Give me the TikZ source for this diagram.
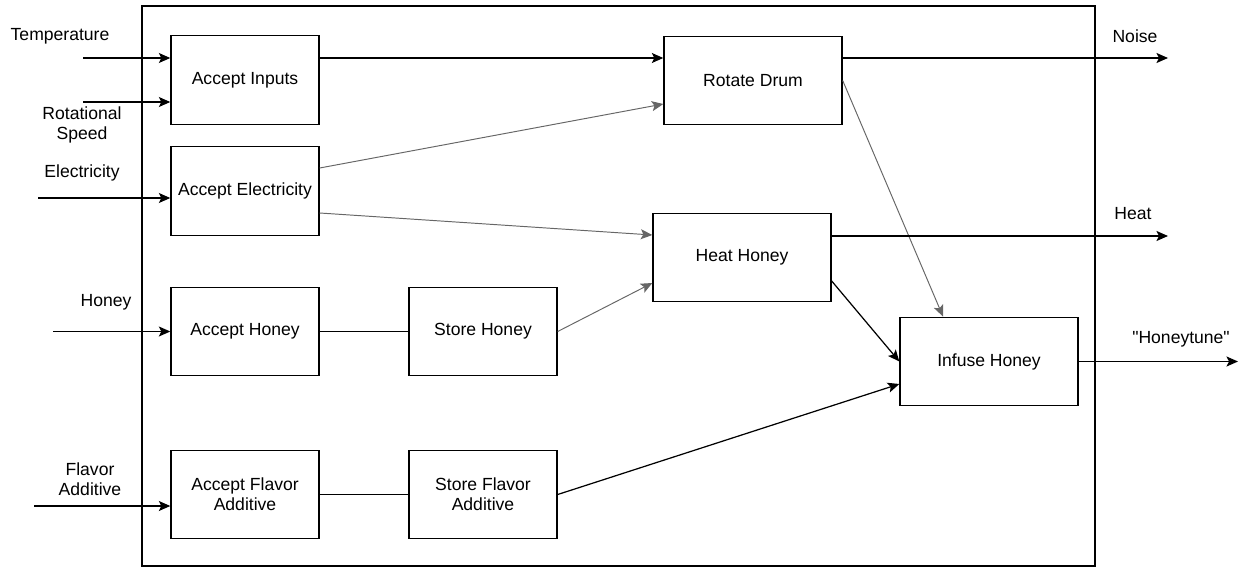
\documentclass[tikz,border=0pt]{standalone}
\usepackage{fontspec}
\setmainfont{Liberation Sans}[Ligatures=TeXOff]
\usetikzlibrary{arrows.meta}
\begin{document}
\begin{tikzpicture}[x=0.02cm,y=-0.02cm,
        txt/.style={align=center,font=\fontsize{10}{11.2}\selectfont},
        block/.style={txt,draw,line width=0.8pt,minimum width=2.96cm,minimum height=1.77cm},
        wideblock/.style={block,minimum width=3.56cm},
        flow/.style={line width=0.7pt,-{Stealth[length=0.23cm,width=0.2cm,inset=0.05cm]}},
        greyflow/.style={flow,draw=black!60,line width=0.55pt},
        link/.style={line width=0.7pt}]
        \useasboundingbox (0,0) rectangle (1243,568);
        \draw[line width=0.8pt] (142,6) rectangle (1095,566);
        \node[block] (ai) at (245,80) {Accept Inputs};
        \node[block] (ae) at (245,191) {Accept Electricity};
        \node[block] (ah) at (245,331.5) {Accept Honey};
        \node[block] (af) at (245,494.5) {Accept Flavor\\Additive};
        \node[block] (sh) at (483,331.5) {Store Honey};
        \node[block] (sf) at (483,494.5) {Store Flavor\\Additive};
        \node[wideblock] (rd) at (753,80.5) {Rotate Drum};
        \node[wideblock] (hh) at (742,257.5) {Heat Honey};
        \node[wideblock] (ih) at (989,361.5) {Infuse Honey};
        \node[txt] (ltemp) at (60,36) {Temperature};
        \node[txt] (lrot) at (82,125) {Rotational\\Speed};
        \node[txt] (lelec) at (82,173) {Electricity};
        \node[txt] (lhon) at (106,302) {Honey};
        \node[txt] (lflav) at (90,479) {Flavor\\Additive};
        \node[txt] (lnoise) at (1135,36) {Noise};
        \node[txt] (lheat) at (1133,214) {Heat};
        \node[txt] (ltune) at (1181,339) {"Honeytune"};
        \coordinate (tin) at (83,58);
        \coordinate (rin) at (83,102);
        \coordinate (ein) at (38,198);
        \coordinate (hin) at (53,331.5);
        \coordinate (fin) at (34,506);
        \coordinate (nout) at (1168,58);
        \coordinate (hout) at (1168,236);
        \coordinate (tout) at (1238,361.5);
        \draw[flow] (tin) -- (tin -| ai.west);
        \draw[flow] (rin) -- (rin -| ai.west);
        \draw[flow] (ein) -- (ein -| ae.west);
        \draw[flow] (hin) -- (ah.west);
        \draw[flow] (fin) -- (fin -| af.west);
        \draw[flow] (tin -| ai.east) -- (tin -| rd.west);
        \draw[greyflow] ([yshift=0.46cm]ae.east) -- ([yshift=-0.47cm]rd.west);
        \draw[greyflow] ([yshift=-0.44cm]ae.east) -- ([yshift=0.45cm]hh.west);
        \draw[link] (ah) -- (sh);
        \draw[link] (af) -- (sf);
        \draw[greyflow] (sh.east) -- ([yshift=-0.51cm]hh.west);
        \draw[greyflow] (rd.east) -- ([xshift=-0.92cm]ih.north);
        \draw[flow] ([yshift=-0.47cm]hh.east) -- (ih.west);
        \draw[flow] (sf.east) -- ([yshift=-0.45cm]ih.west);
        \draw[flow] (nout -| rd.east) -- (nout);
        \draw[flow] (hout -| hh.east) -- (hout);
        \draw[flow] (ih.east) -- (tout);
\end{tikzpicture}
\end{document}
